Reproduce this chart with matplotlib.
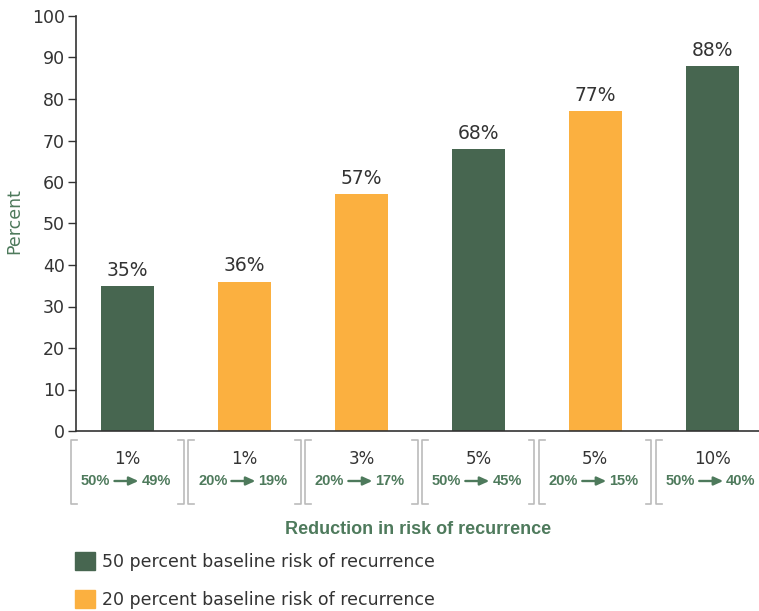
import matplotlib
matplotlib.use("Agg")
import matplotlib.pyplot as plt
from matplotlib.patches import Patch
import matplotlib.transforms as mtransforms

categories = ["1%", "1%", "3%", "5%", "5%", "10%"]
sublabels = [("50%", "49%"), ("20%", "19%"), ("20%", "17%"), ("50%", "45%"), ("20%", "15%"), ("50%", "40%")]
values = [35, 36, 57, 68, 77, 88]
baseline = [50, 20, 20, 50, 20, 50]
value_labels = ["35%", "36%", "57%", "68%", "77%", "88%"]
yticks = [0, 10, 20, 30, 40, 50, 60, 70, 80, 90, 100]

GREEN = "#476650"
ORANGE = "#FBB040"
TXT = "#333333"
LGREEN = "#4e7a5c"
FONT = "DejaVu Sans"
BOLDFONT = "Liberation Sans"

plt.rcParams["font.family"] = [FONT]

fig = plt.figure(figsize=(7.59, 6.11), dpi=100)
ax = fig.add_axes([76/759, 1-431/611, 1-76/759, 415/611])

x = list(range(len(values)))
colors = [GREEN if b == 50 else ORANGE for b in baseline]
ax.bar(x, values, width=0.45, color=colors, zorder=2)
for xi, v, lab in zip(x, values, value_labels):
    ax.text(xi, v + 1.5, lab, ha="center", va="bottom", fontsize=13.5, color=TXT)

ax.set_xlim(-0.44, 5.40)
ax.set_ylim(0, 100)
ax.set_yticks(yticks)
ax.tick_params(axis="y", labelsize=12.5, colors=TXT, length=6, width=1, direction="out", pad=2)
ax.set_xticks([])
for s in ["top", "right"]:
    ax.spines[s].set_visible(False)
ax.spines["left"].set_color(TXT)
ax.spines["bottom"].set_color(TXT)
ax.spines["left"].set_linewidth(1.2)
ax.spines["bottom"].set_linewidth(1.2)

fig.text(14/759, 1-221/611, "Percent", rotation=90, ha="center", va="center", fontsize=12.5, color=LGREEN)

# category brackets
trans = mtransforms.blended_transform_factory(ax.transData, ax.transAxes)
half = 0.48
tick = 0.05
ytop = (431-440)/415
ybot = (431-504)/415
ysub = (431-481)/415
bcol = "#bbbbbb"
pxu = 1/117.0
for xi, cat, (a, b) in zip(x, categories, sublabels):
    l, r = xi - half, xi + half
    ax.plot([l + tick, l, l, l + tick], [ytop, ytop, ybot, ybot], transform=trans, color=bcol, lw=1.2, clip_on=False)
    ax.plot([r - tick, r, r, r - tick], [ytop, ytop, ybot, ybot], transform=trans, color=bcol, lw=1.2, clip_on=False)
    ax.text(xi, (431-459)/415, cat, transform=trans, ha="center", va="center", fontsize=12, color=TXT)
    ax.text(xi - 17*pxu, ysub, a, transform=trans, ha="right", va="center",
            fontsize=10.5, fontweight="bold", color=LGREEN, family=BOLDFONT)
    ax.text(xi + 14*pxu, ysub, b, transform=trans, ha="left", va="center",
            fontsize=10.5, fontweight="bold", color=LGREEN, family=BOLDFONT)
    ax.annotate("", xy=(xi + 11*pxu, ysub), xytext=(xi - 13*pxu, ysub),
                xycoords=trans, textcoords=trans, annotation_clip=False,
                arrowprops=dict(arrowstyle="-|>,head_length=0.55,head_width=0.25", color=LGREEN, lw=1.7,
                                shrinkA=0, shrinkB=0))

fig.text(418/759, 1-530/611, "Reduction in risk of recurrence", ha="center", va="center",
         fontsize=13, fontweight="bold", color=LGREEN, family=BOLDFONT)

handles = [Patch(color=GREEN, label="50 percent baseline risk of recurrence"),
           Patch(color=ORANGE, label="20 percent baseline risk of recurrence")]
leg = fig.legend(handles=handles, loc="upper left", bbox_to_anchor=(72/759, 1-549/611), frameon=False,
                 fontsize=12.5, handlelength=1.15, handleheight=1.15, handletextpad=0.35, labelspacing=1.12,
                 borderaxespad=0, borderpad=0.2)
for t in leg.get_texts():
    t.set_color(TXT)

fig.savefig("out.png", dpi=100)
